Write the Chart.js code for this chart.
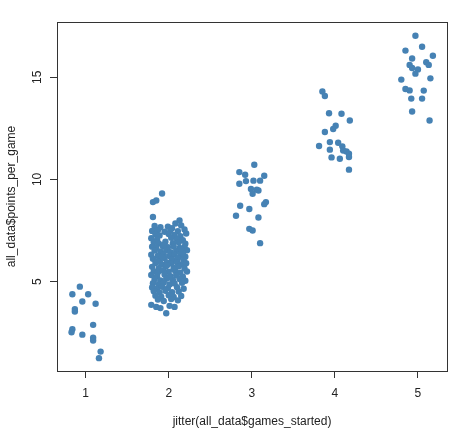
<!DOCTYPE html>
<html>
<head>
<meta charset="utf-8">
<script src="https://cdn.jsdelivr.net/npm/chart.js@4"></script>
<style>
  html, body { margin: 0; padding: 0; background: #fff; }
  canvas { display: block; }
</style>
</head>
<body>
<canvas id="jitterChart" width="457" height="435"></canvas>
<script>
// Tick labels
const xTickValues = [1, 2, 3, 4, 5];
const yTickValues = [5, 10, 15];

// jitter(games_started) and points_per_game, one pair of arrays per group
const group1X = [0.93, 0.84, 1.03, 0.96, 1.12, 0.87, 0.87, 1.09, 0.84, 0.83, 0.96, 1.09, 1.09, 1.18, 1.16];
const group1Y = [4.75, 4.38, 4.38, 4.02, 3.91, 3.65, 3.53, 2.88, 2.67, 2.52, 2.40, 2.25, 2.11, 1.57, 1.25];

const group2X = [
  1.92, 1.85, 1.81, 1.81, 2.13, 2.08,
  1.83, 1.90, 1.99, 2.04, 2.15,
  1.80, 1.87, 1.95, 2.02, 2.11, 2.19,
  1.84, 1.89, 2.00, 2.07, 2.14, 2.21,
  1.79, 1.86, 2.03, 2.10, 2.17,
  1.82, 1.88, 1.96, 2.05, 2.12, 2.20,
  1.80, 1.85, 1.93, 1.99, 2.06, 2.13, 2.19,
  1.83, 1.90, 1.97, 2.02, 2.09, 2.16, 2.22,
  1.79, 1.87, 1.94, 2.01, 2.07, 2.14, 2.20,
  1.81, 1.89, 1.95, 2.04, 2.11, 2.18,
  1.84, 1.91, 1.98, 2.03, 2.10, 2.15, 2.21,
  1.80, 1.88, 1.96, 2.06, 2.12, 2.19,
  1.82, 1.87, 1.93, 2.00, 2.08, 2.14, 2.22,
  1.79, 1.86, 1.95, 2.02, 2.09, 2.17,
  1.83, 1.90, 1.97, 2.05, 2.13, 2.20,
  1.81, 1.88, 1.94, 2.01, 2.07, 2.16,
  1.80, 1.86, 1.92, 1.99, 2.10, 2.18,
  1.82, 1.89, 1.96, 2.04, 2.12,
  1.84, 1.91, 2.00, 2.06, 2.15,
  1.87, 1.94, 2.03, 2.11,
  1.79, 1.85, 1.90, 2.01, 2.07, 1.97,
  2.17, 1.92, 2.06, 1.98, 2.15, 1.86, 2.01, 1.94
];
const group2Y = [
  9.31, 8.97, 8.89, 8.16, 7.99, 7.84,
  7.72, 7.66, 7.69, 7.61, 7.75,
  7.48, 7.52, 7.44, 7.50, 7.47, 7.55,
  7.31, 7.26, 7.33, 7.28, 7.22, 7.35,
  7.12, 7.05, 7.14, 7.08, 7.02,
  6.92, 6.86, 6.95, 6.88, 6.93, 6.85,
  6.71, 6.66, 6.74, 6.68, 6.72, 6.64, 6.70,
  6.52, 6.47, 6.55, 6.44, 6.50, 6.46, 6.53,
  6.31, 6.27, 6.34, 6.25, 6.32, 6.28, 6.22,
  6.12, 6.06, 6.15, 6.08, 6.13, 6.03,
  5.91, 5.86, 5.94, 5.88, 5.95, 5.84, 5.90,
  5.72, 5.66, 5.74, 5.68, 5.75, 5.64,
  5.51, 5.45, 5.54, 5.48, 5.52, 5.43, 5.49,
  5.32, 5.27, 5.35, 5.26, 5.31, 5.24,
  5.11, 5.06, 5.14, 5.08, 5.13, 5.04,
  4.92, 4.87, 4.95, 4.86, 4.91, 4.94,
  4.71, 4.66, 4.74, 4.68, 4.72, 4.65,
  4.52, 4.46, 4.55, 4.48, 4.51,
  4.31, 4.26, 4.33, 4.24, 4.29,
  4.12, 4.05, 4.14, 4.08,
  3.86, 3.76, 3.70, 3.81, 3.76, 3.45,
  6.40, 6.18, 5.60, 5.80, 6.60, 6.00, 5.20, 6.80
];

const group3X = [3.03, 2.85, 2.92, 3.15, 2.93, 3.02, 3.10, 2.85, 2.99, 3.06, 3.08, 3.01, 3.17, 3.15, 2.86, 2.97, 2.81, 3.08, 2.97, 3.01, 3.10];
const group3Y = [10.72, 10.36, 10.23, 10.18, 9.92, 9.94, 9.94, 9.79, 9.53, 9.50, 9.46, 9.30, 8.89, 8.79, 8.71, 8.55, 8.22, 8.14, 7.58, 7.50, 6.88];

const group4X = [3.85, 3.88, 3.93, 4.08, 4.18, 4.01, 3.98, 3.88, 3.94, 4.04, 3.81, 3.94, 4.09, 4.10, 4.14, 4.17, 4.17, 3.96, 4.06, 4.17];
const group4Y = [14.31, 14.09, 13.24, 13.22, 12.89, 12.63, 12.47, 12.32, 11.83, 11.80, 11.64, 11.46, 11.62, 11.42, 11.37, 11.26, 11.10, 11.08, 11.01, 10.48];

const group5X = [4.97, 5.05, 4.85, 5.18, 4.93, 5.10, 5.13, 4.90, 4.93, 5.00, 4.97, 4.80, 5.15, 4.85, 4.90, 5.07, 4.92, 5.05, 4.93, 5.14];
const group5Y = [17.04, 16.50, 16.31, 16.06, 15.92, 15.74, 15.61, 15.61, 15.46, 15.39, 15.18, 14.89, 14.95, 14.43, 14.36, 14.35, 13.96, 13.96, 13.33, 12.89];

const allX = [...group1X, ...group2X, ...group3X, ...group4X, ...group5X];
const allY = [...group1Y, ...group2Y, ...group3Y, ...group4Y, ...group5Y];

const axisColor = "#333";
const textColor = "#222";
const fontFamily = "'Liberation Sans', Arial, Helvetica, sans-serif";

// Draw the full box around the plot region (R's box())
const boxPlugin = {
  id: "plotBox",
  afterDatasetsDraw(chart) {
    const { ctx, chartArea: a } = chart;
    ctx.save();
    ctx.strokeStyle = axisColor;
    ctx.lineWidth = 1;
    ctx.strokeRect(Math.round(a.left) + 0.5, Math.round(a.top) + 0.5,
      Math.round(a.right - a.left), Math.round(a.bottom - a.top));
    ctx.restore();
  },
};

// Y tick labels are rotated (reading upward) like R's default las=0
const yLabelPlugin = {
  id: "yRotatedLabels",
  afterDraw(chart) {
    const { ctx } = chart;
    const yScale = chart.scales.y;
    ctx.save();
    ctx.fillStyle = textColor;
    ctx.font = `12px ${fontFamily}`;
    ctx.textAlign = "center";
    ctx.textBaseline = "middle";
    yScale.ticks.forEach(t => {
      const py = yScale.getPixelForValue(t.value);
      ctx.save();
      ctx.translate(38, py);
      ctx.rotate(-Math.PI / 2);
      ctx.fillText(String(t.value), 0, 0);
      ctx.restore();
    });
    ctx.restore();
  },
};

const ctx = document.getElementById("jitterChart").getContext("2d");
new Chart(ctx, {
  type: "scatter",
  data: {
    datasets: [
      {
        data: allX.map((x, i) => ({ x, y: allY[i] })),
        backgroundColor: "#4682B4",
        borderWidth: 0,
        pointRadius: 3.2,
        pointHoverRadius: 3.2,
      },
    ],
  },
  options: {
    responsive: false,
    animation: false,
    layout: { padding: { left: 0, top: 22, right: 10, bottom: 0 } },
    plugins: {
      legend: { display: false },
      tooltip: { enabled: false },
    },
    scales: {
      x: {
        type: "linear",
        min: 0.655,
        max: 5.35,
        afterBuildTicks: (scale) => { scale.ticks = xTickValues.map(v => ({ value: v })); },
        afterFit: (scale) => { scale.height = 64; },
        border: { display: false },
        grid: { drawOnChartArea: false, drawTicks: true, tickLength: 7, color: axisColor },
        ticks: { color: textColor, padding: 8, maxRotation: 0, font: { size: 12, family: fontFamily } },
        title: {
          display: true,
          text: "jitter(all_data$games_started)",
          color: textColor,
          font: { size: 12, family: fontFamily },
          padding: { top: 0, bottom: 6 },
        },
      },
      y: {
        type: "linear",
        min: 0.62,
        max: 17.71,
        afterBuildTicks: (scale) => { scale.ticks = yTickValues.map(v => ({ value: v })); },
        afterFit: (scale) => { scale.width = 57; },
        border: { display: false },
        grid: { drawOnChartArea: false, drawTicks: true, tickLength: 7, color: axisColor },
        ticks: { display: false },
        title: {
          display: true,
          text: "all_data$points_per_game",
          color: textColor,
          font: { size: 12, family: fontFamily },
          padding: { top: 4, bottom: 0 },
        },
      },
    },
  },
  plugins: [boxPlugin, yLabelPlugin],
});
</script>
</body>
</html>
